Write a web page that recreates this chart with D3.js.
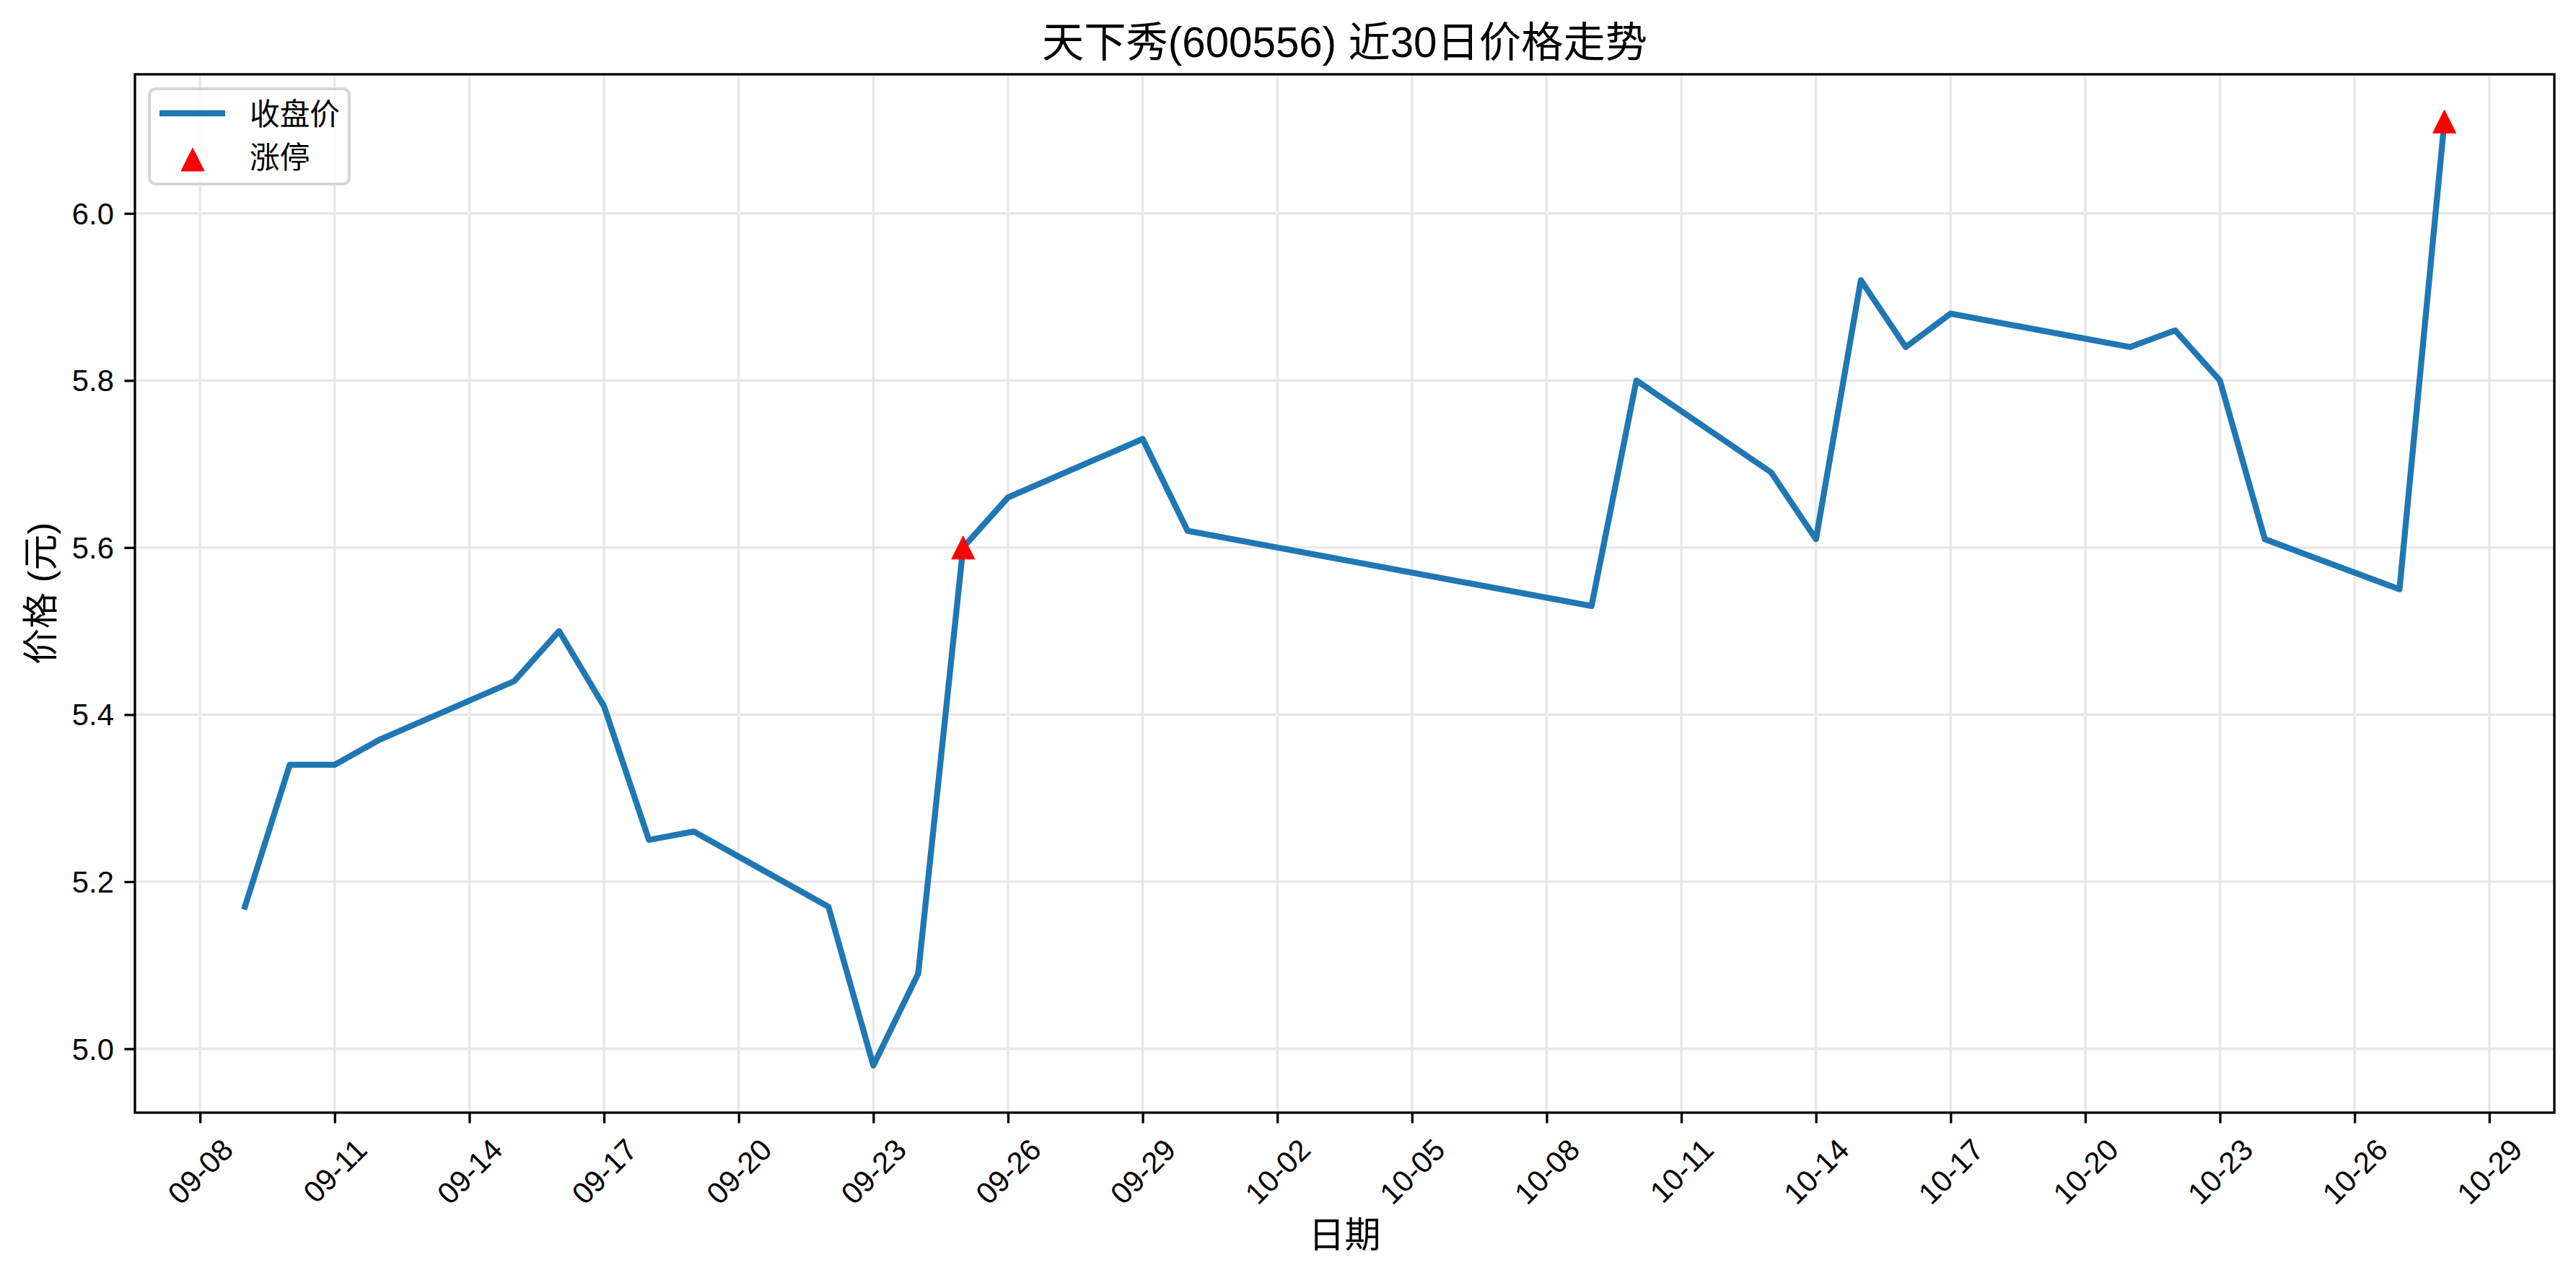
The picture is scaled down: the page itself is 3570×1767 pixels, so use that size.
<!DOCTYPE html>
<html><head><meta charset="utf-8">
<script src="https://cdn.jsdelivr.net/npm/d3@7/dist/d3.min.js"></script>
<style>
body{margin:0;background:#fff}
text{font-family:"Liberation Sans","Noto Sans CJK SC",sans-serif;fill:#000}
</style>
</head><body>
<svg id="c" width="3570" height="1767"></svg>
<script>
// ---- data ----
const dates = ["2025-09-09","2025-09-10","2025-09-11","2025-09-12","2025-09-15","2025-09-16","2025-09-17","2025-09-18","2025-09-19","2025-09-22","2025-09-23","2025-09-24","2025-09-25","2025-09-26","2025-09-29","2025-09-30","2025-10-09","2025-10-10","2025-10-13","2025-10-14","2025-10-15","2025-10-16","2025-10-17","2025-10-20","2025-10-21","2025-10-22","2025-10-23","2025-10-24","2025-10-27","2025-10-28"];
const closes = [5.17,5.34,5.34,5.37,5.44,5.50,5.41,5.25,5.26,5.17,4.98,5.09,5.60,5.66,5.73,5.62,5.53,5.80,5.69,5.61,5.92,5.84,5.88,5.85,5.84,5.86,5.80,5.61,5.55,6.11];
const limitUpDates = ["2025-09-25","2025-10-28"];
const limitUpValues = [5.60,6.11];
const xTickLabels = ["09-08","09-11","09-14","09-17","09-20","09-23","09-26","09-29","10-02","10-05","10-08","10-11","10-14","10-17","10-20","10-23","10-26","10-29"];
const tickYear = "2025";
const yTicks = [5.0,5.2,5.4,5.6,5.8,6.0];
const titleText = "天下秀(600556) 近30日价格走势";
const xLabelText = "日期";
const yLabelText = "价格 (元)";
const seriesNames = ["收盘价","涨停"];

// ---- layout ----
const W = 3570, H = 1767;
const L = 187, R = 3540, T = 103, B = 1542;
const lineColor = "#1f77b4", markerColor = "#ff0000";
const gridColor = "#e7e7e7";
const tickFont = 41.7, labelFont = 50, titleFont = 58.3;

const parse = d3.utcParse("%Y-%m-%d");
const xs = dates.map(parse);
const svg = d3.select("#c");

const xExt = d3.extent(xs);
const span = xExt[1] - xExt[0];
const x = d3.scaleUtc().domain([new Date(+xExt[0] - 0.05*span), new Date(+xExt[1] + 0.05*span)]).range([L, R]);
const yExt = d3.extent(closes);
const yr = yExt[1] - yExt[0];
const y = d3.scaleLinear().domain([yExt[0] - 0.05*yr, yExt[1] + 0.05*yr]).range([B, T]);

const tickDates = xTickLabels.map(s => parse(tickYear + "-" + s));

// grid
const g = svg.append("g");
g.selectAll("line.vg").data(tickDates).join("line")
  .attr("x1", d => x(d)).attr("x2", d => x(d)).attr("y1", T).attr("y2", B)
  .attr("stroke", gridColor).attr("stroke-width", 3.3);
g.selectAll("line.hg").data(yTicks).join("line")
  .attr("x1", L).attr("x2", R).attr("y1", d => y(d)).attr("y2", d => y(d))
  .attr("stroke", gridColor).attr("stroke-width", 3.3);

// line
const line = d3.line().x((d,i) => x(xs[i])).y(d => y(d));
svg.append("path").datum(closes).attr("d", line)
  .attr("fill","none").attr("stroke", lineColor).attr("stroke-width", 8.3)
  .attr("stroke-linejoin","round").attr("stroke-linecap","square");

// markers
const tri = (cx, cy, s) => `M${cx},${cy-s}L${cx-s},${cy+s}L${cx+s},${cy+s}Z`;
svg.selectAll("path.mk").data(limitUpDates).join("path")
  .attr("d", (d,i) => tri(x(parse(d)), y(limitUpValues[i]), 16))
  .attr("fill", markerColor).attr("stroke", markerColor).attr("stroke-width", 1).attr("stroke-linejoin","round");

// axes
const xAxis = d3.axisBottom(x).tickValues(tickDates).tickSize(14.6).tickPadding(14.6).tickFormat((d,i) => xTickLabels[i]);
const xg = svg.append("g").attr("transform", `translate(0,${B})`).call(xAxis);
xg.select(".domain").remove();
xg.selectAll(".tick line").attr("stroke","#000").attr("stroke-width",3.3);
xg.selectAll(".tick text").each(function(){
  const t = d3.select(this);
  t.attr("font-size", tickFont).attr("font-family", null).attr("fill","#000");
  const w = this.getComputedTextLength();
  const h = tickFont;
  const half = (w + h) / (2*Math.SQRT2);
  t.attr("y", null).attr("dy", null)
   .attr("text-anchor","middle").attr("dominant-baseline","central")
   .attr("transform", `translate(0,${14.6+14.6+half}) rotate(-45)`);
});

const yAxis = d3.axisLeft(y).tickValues(yTicks).tickSize(14.6).tickPadding(14.6).tickFormat(d3.format(".1f"));
const yg = svg.append("g").attr("transform", `translate(${L},0)`).call(yAxis);
yg.select(".domain").remove();
yg.selectAll(".tick line").attr("stroke","#000").attr("stroke-width",3.3);
yg.selectAll(".tick text").attr("font-size", tickFont).attr("font-family", null).attr("fill","#000").attr("dy","0.35em");

// frame
svg.append("rect").attr("x", L).attr("y", T).attr("width", R-L).attr("height", B-T)
  .attr("fill","none").attr("stroke","#000").attr("stroke-width",3.3);

// title and labels
svg.append("text").attr("x", (L+R)/2).attr("y", 79).attr("text-anchor","middle")
  .attr("font-size", titleFont).text(titleText);
svg.append("text").attr("x", (L+R)/2).attr("y", 1712).attr("text-anchor","middle")
  .attr("dominant-baseline","central").attr("font-size", labelFont).text(xLabelText);
svg.append("text").attr("transform", `translate(57,${(T+B)/2}) rotate(-90)`).attr("text-anchor","middle")
  .attr("dominant-baseline","central").attr("font-size", labelFont).text(yLabelText);

// legend
const lg = svg.append("g");
lg.append("rect").attr("x",207).attr("y",123).attr("width",277).attr("height",132).attr("rx",9)
  .attr("fill","#fff").attr("fill-opacity",0.8).attr("stroke","#d6d6d6").attr("stroke-width",4.2);
lg.append("line").attr("x1",221).attr("x2",312).attr("y1",157).attr("y2",157)
  .attr("stroke", lineColor).attr("stroke-width",8.3);
lg.append("path").attr("d", tri(267, 221, 16)).attr("fill", markerColor).attr("stroke", markerColor).attr("stroke-width",1);
lg.append("text").attr("x",346).attr("y",158).attr("dominant-baseline","central").attr("font-size",tickFont).text(seriesNames[0]);
lg.append("text").attr("x",346).attr("y",218).attr("dominant-baseline","central").attr("font-size",tickFont).text(seriesNames[1]);
</script>
</body></html>
